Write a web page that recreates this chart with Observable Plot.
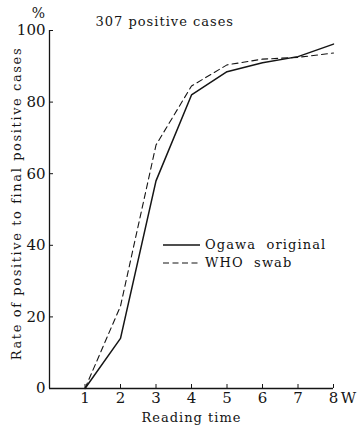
<!DOCTYPE html>
<html><head><meta charset="utf-8">
<script src="https://cdn.jsdelivr.net/npm/d3@7"></script>
<script src="https://cdn.jsdelivr.net/npm/@observablehq/plot@0.6"></script>
<style>
body{margin:0;background:#fff;}
#wrap{position:relative;width:358px;height:427px;font-family:"DejaVu Serif",serif;color:#111;}
#legend{position:absolute;left:163px;top:236px;font-size:13px;letter-spacing:1.1px;line-height:18px;font-family:"DejaVu Serif",serif;}
#legend div{display:flex;align-items:center;height:18px;}
#legend svg{margin-right:5px;}
</style></head><body><div id="wrap"></div>
<script>
const weeks = [1, 2, 3, 4, 5, 6, 7, 8];
const ogawa = [0, 14, 58, 82, 88.5, 91, 92.7, 96.2];
const who = [0, 23, 68, 84.5, 90.4, 92, 92.5, 93.7];
const seriesNames = ["Ogawa original", "WHO swab"];
const yTicks = [0, 20, 40, 60, 80, 100];
const xTicks = [1, 2, 3, 4, 5, 6, 7, 8];
const titleText = "307 positive cases";
const yLabel = "Rate of positive to final positive cases";
const xLabel = "Reading time";

const rows = [];
weeks.forEach((w, i) => {
  rows.push({week: w, value: ogawa[i], series: seriesNames[0]});
  rows.push({week: w, value: who[i], series: seriesNames[1]});
});

const ink = "#151515";
const font = "DejaVu Serif, serif";
const chart = Plot.plot({
  width: 358, height: 427,
  marginLeft: 49, marginRight: 25, marginTop: 30, marginBottom: 39,
  style: {fontFamily: font, background: "#fff", color: ink},
  x: {domain: [0, 8]},
  y: {domain: [0, 100]},
  marks: [
    Plot.axisY(yTicks, {tickSize: -4, tickPadding: 8, fontSize: 15, label: null, stroke: ink}),
    Plot.axisX(xTicks, {tickSize: -4, tickPadding: 8, fontSize: 15, label: null, stroke: ink}),
    Plot.ruleX([0], {stroke: ink, strokeWidth: 1.3}),
    Plot.ruleY([0], {x1: 0, x2: 8, stroke: ink, strokeWidth: 1.3}),
    Plot.line(rows.filter(d => d.series === seriesNames[0]), {x: "week", y: "value", stroke: ink, strokeWidth: 1.5}),
    Plot.line(rows.filter(d => d.series === seriesNames[1]), {x: "week", y: "value", stroke: ink, strokeWidth: 1.1, strokeDasharray: "6,4"}),
    Plot.text(["%"], {frameAnchor: "top-left", dx: -11, dy: -17, fontSize: 14, textAnchor: "middle", lineAnchor: "middle", fill: ink}),
    Plot.text([titleText], {frameAnchor: "top-left", dx: 46, dy: -9, fontSize: 13, textAnchor: "start", lineAnchor: "middle", fill: ink}),
    Plot.text(["W"], {frameAnchor: "bottom-right", dx: 15, dy: 10, fontSize: 15, textAnchor: "middle", lineAnchor: "middle", fill: ink}),
    Plot.text([xLabel], {frameAnchor: "bottom", dx: 0, dy: 29, fontSize: 13, textAnchor: "middle", lineAnchor: "middle", fill: ink}),
    Plot.text([yLabel], {frameAnchor: "left", dx: -33, dy: -6, rotate: -90, fontSize: 13, textAnchor: "middle", lineAnchor: "middle", fill: ink})
  ]
});
document.getElementById("wrap").appendChild(chart);
d3.select(chart).selectAll("text").each(function() {
  const t = this.textContent;
  if (t === titleText || t === xLabel) this.setAttribute("letter-spacing", "1");
  if (t === yLabel) this.setAttribute("letter-spacing", "1.6");
});

const legend = document.createElement("div");
legend.id = "legend";
legend.innerHTML = seriesNames.map((name, i) =>
  `<div><svg width="37" height="6"><line x1="0" x2="37" y1="3" y2="3" stroke="${ink}" stroke-width="${i ? 1.1 : 1.5}" ${i ? 'stroke-dasharray="6,3.5"' : ''}/></svg><span>${name.replace(" ", "&nbsp;&nbsp;")}</span></div>`
).join("");
document.getElementById("wrap").appendChild(legend);
</script></body></html>
